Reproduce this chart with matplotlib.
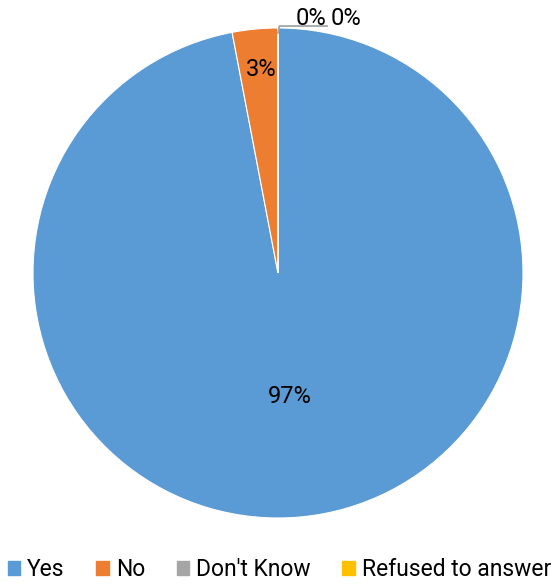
import matplotlib
matplotlib.use("Agg")
from matplotlib import pyplot as plt

plt.rcParams["font.family"] = ["Roboto", "DejaVu Sans"]

categories = ["Yes", "No", "Don't Know", "Refused to answer"]
values = [97, 3, 0, 0]
colors = ["#5B9BD5", "#ED7D31", "#A5A5A5", "#FFC000"]
pct_labels = ["97%", "3%", "0%", "0%"]

fig = plt.figure(figsize=(5.59, 5.85), dpi=100)
# pie centred at (278, 273) px, radius 245 px
ax = fig.add_axes([33 / 559, 67 / 585, 490 / 559, 490 / 585])
wedges, _ = ax.pie(
    values,
    colors=colors,
    startangle=90,
    counterclock=False,
    radius=1,
    wedgeprops=dict(edgecolor="white", linewidth=0.8),
)
ax.set_xlim(-1, 1)
ax.set_ylim(-1, 1)
ax.set_aspect("equal")
ax.axis("off")

# data labels
fs = 17
ax.text(0.049, -0.506, pct_labels[0], ha="center", va="center", fontsize=fs, color="#000000")
ax.text(-0.069, 0.829, pct_labels[1], ha="center", va="center", fontsize=fs, color="#000000")
ax.plot([0.0, 0.006, 0.2], [0.98, 1.008, 1.008], color="#A5A5A5", linewidth=1.3, clip_on=False)
ax.text(0.135, 1.04, pct_labels[2], ha="center", va="center", fontsize=fs, color="#000000", clip_on=False)
ax.text(0.278, 1.04, pct_labels[3], ha="center", va="center", fontsize=fs, color="#000000", clip_on=False)

handles = [plt.Rectangle((0, 0), 1, 1, color=c) for c in colors]
fig.legend(
    handles,
    categories,
    loc="center",
    bbox_to_anchor=(0.5, 1 - 570 / 585),
    ncol=4,
    frameon=False,
    fontsize=16.5,
    handlelength=0.55,
    handleheight=0.55,
    handletextpad=0.3,
    columnspacing=1.38,
    borderaxespad=0,
)

fig.savefig("out.png", dpi=100)
